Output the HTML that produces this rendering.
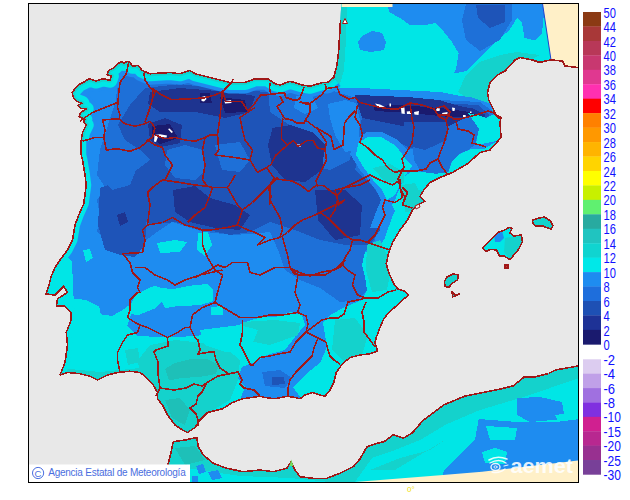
<!DOCTYPE html><html><head><meta charset="utf-8"><style>html,body{margin:0;padding:0;background:#fff;width:630px;height:500px;overflow:hidden}svg{display:block}text{font-family:"Liberation Sans",sans-serif}</style></head><body>
<svg width="630" height="500" viewBox="0 0 630 500">
<rect x="28.5" y="3.5" width="549.5" height="478.5" fill="#e8e8e8"/>
<defs><clipPath id="frame"><rect x="29" y="4" width="549" height="478"/></clipPath>
<clipPath id="land">
<polygon points="60,375 65,362.5 67.5,345 66.25,332.5 71.25,320 71.25,312.5 65,306.25 56.25,306.25 57.5,298.75 67.5,292.5 63.75,286.25 55,295 46,294 49,285 51,277 55,267.5 60,260 67.5,250 72.5,240 75,225 78.75,215 83.75,203.75 86.25,185 85,175 82.5,160 81.25,155 81.25,140 82.5,132.5 86.2,125 83.4,122.2 84.8,119.4 79.2,116.6 80.6,112.4 86.2,109 80.6,108.2 77.8,105.4 82,103.3 76.4,101.2 73.6,98.4 72.2,92.8 75,88.6 79.2,84.4 84.8,81.6 89,78.8 96,81 103,78.8 110,80.2 111.4,76 107.2,74.6 108.6,70.4 114.2,67.6 118.4,63.4 121.2,61.3 124,63.4 126.8,61.3 129.6,62 132.4,66.2 138,65.5 142.2,70.4 150,73.75 170,72.5 180,73.75 190,70.5 195,73.75 210,77.5 230,82.5 245,82.5 255,78.75 267.5,78.75 275,83.75 280,85 290,81.25 302.5,85 310,86.25 322.5,82.5 327.5,82.5 333.75,77.5 337,65 338.75,50 340.5,20 341.25,3.5 578,3.5 578,67.5 565,66 562.5,61 551,60 545,61 540,62.5 532.5,60 520,57.5 515,60 505,71 497.5,75 490,82.5 487.5,92.5 488.75,100 492.5,107.5 496,115 501,117.5 500,122.5 501,137.5 490,150 480,152.5 467.5,163.75 452.5,172.5 440,177.5 430,182.5 423.75,190 420,196.25 425,201.25 417.5,205 412.5,210 407.5,220 400,230 392.5,242.5 388.75,252.5 386.25,263.75 388.75,272.5 393.75,283.75 397.5,288.75 405,291.25 408.75,295 402.5,300 397.5,305 390,311.25 383.75,318.75 380,327.5 376.25,337.5 375,342.5 377.5,351.25 370,353.75 360,355 350,357.5 342.5,363.75 336.25,372.5 333.75,382.5 330,390 325,396.25 320,395 312.5,392.5 305,395 300,398.75 295,397.5 287.5,396.25 275,398.75 265,397.5 260,396.25 242.5,398.75 232.5,402.5 222.5,408.75 207.5,412.5 200,420 195,427.5 187.5,432.5 182.5,430 175,425 167.5,415 162.5,405 157.5,398.75 157.5,392.5 152.5,383.75 145,376.25 140,372.5 130,371.25 117.5,372.5 107.5,375 97.5,380 90,376.25 80,373.75 67.5,372.5"/>
<polygon points="163.3,482 166.7,470 170,456.7 173.3,441.7 185,440 193.3,438.3 196.7,437.5 198.3,446.7 203.3,455 213.3,463.3 226.7,468.3 243.3,471.7 260,470 273.3,471.7 286.7,468.3 291,461.7 295,470 300,476.7 313.3,478.3 326.7,478.3 340,473.3 353.3,466.7 360,459 367,446.8 377.5,443.3 384.4,441.6 393.2,434.6 403.6,438.1 412.4,432.8 422.9,420.6 443.8,404.9 464.7,396.2 482.2,392.7 499.7,389.2 513.6,385.7 524.1,377 534.6,377 548.5,373.5 555.5,370 578,366 578,482"/>
<polygon points="482.4,248.3 487.1,243.6 492.9,237.9 498.6,232.1 504.3,230.2 509,227.4 511.9,228.3 510,233.1 513.8,236 521.4,235 522.4,241.7 518.6,249.3 513.8,255 510,259.8 504.3,256 499.5,256 496.7,250.2 491,249.3 486.2,251.2"/>
<polygon points="532.4,220 539,218.1 544.8,217.1 550.5,221 552.9,225.7 551.4,229 546.7,227.6 541.9,225.7 535.2,225.7 532.9,222.9"/>
<polygon points="444.3,281.7 447.1,276.9 452.9,274 458.6,275 457.6,279.8 451.9,283.6 449,287.4 445.2,286.4"/>
<polygon points="451.9,291.2 454.8,295 459.5,294 452.9,296.9"/>
<polygon points="505,265 508,265 508,268 505,268"/>
</clipPath></defs>
<g clip-path="url(#frame)">
<g clip-path="url(#land)">
<rect x="0" y="0" width="630" height="500" fill="#1e8cf0"/>
<g shape-rendering="crispEdges">
<polygon points="330,0 580,0 580,70 505,72 496,115 480,100 440,92 400,90 360,88 330,88" fill="#00e6e6"/>
<polygon points="336,0 347,0 346,40 344,70 340,84 334,84" fill="#14d2cc"/>
<polygon points="386,3.5 545,3.5 542,33 535,40.6 524.6,38 522,23 517,18 514,23 509,30.5 496.7,40.6 486.5,50.8 476.3,61 466,71 453.5,73.7 456,68.6 458.6,53.3 451,40.6 440.8,28 435.7,23 423,25.4 410,25.4 400,17.8 390,12.7" fill="#1e8cf0"/>
<polygon points="466,4 512,4 512,20 500,40 480,51 466,40 462,20" fill="#1e70d8"/>
<polygon points="476,5 505,5 505,22 490,28 478,18" fill="#1e54b8"/>
<polygon points="362,36 372,31 382,33 386,42 384,50 370,52 360,50 358,42" fill="#1e8cf0"/>
<polygon points="466,75 480,62 500,55 517,52 540,55 505,72 496,115 485,108 470,100 458,92" fill="#14d2cc"/>
<polygon points="330,89 400,90 440,94 470,97 492,104 492,112 330,112" fill="#1e8cf0"/>
<polygon points="118,76 140,76 180,80 230,88 270,88 300,92 335,96 360,98 420,99 480,102 494,112 490,122 470,135 440,148 400,150 375,150 362,165 375,178 382,190 380,215 375,240 365,252 362,265 365,277 367,290 358,300 340,302 320,288 300,280 285,270 278,250 270,232 250,234 232,235 205,232 190,228 172,222 157,232 140,245 122,255 115,250 97,232 100,215 97,200 105,187 97,175 100,150 108,125 116,100" fill="#1e70d8"/>
<polygon points="145,88 180,84 230,90 270,92 300,96 340,100 362,100 420,102 478,105 490,115 470,132 440,145 410,148 390,138 370,140 360,150 355,170 372,185 382,200 380,230 370,245 345,245 320,240 300,232 270,222 250,232 230,235 200,228 175,222 150,225 140,215 130,205 120,190 130,175 150,160 140,150 125,140 118,125 130,105" fill="#1e54b8"/>
<polygon points="100,188 122,180 140,190 147,215 145,245 135,257 120,255 105,250 98,225" fill="#1e54b8"/>
<polygon points="117,215 125,212 128,222 120,226" fill="#1e3490"/>
<polygon points="167,150 185,145 203,150 205,170 195,180 175,178 165,165" fill="#1e70d8"/>
<polygon points="100,150 118,145 140,160 130,185 112,190 100,175" fill="#1e70d8"/>
<polygon points="215,145 240,142 250,160 240,172 222,170" fill="#1e70d8"/>
<polygon points="305,140 330,130 355,135 350,160 330,170 310,165" fill="#1e70d8"/>
<polygon points="150,92 180,88 230,92 255,96 250,112 225,118 195,112 160,112 148,104" fill="#1e3490"/>
<polygon points="148,124 165,118 182,125 180,143 160,147 150,140" fill="#1e3490"/>
<polygon points="173,190 195,186 210,198 235,205 250,215 240,230 215,228 190,222 175,212" fill="#1e3490"/>
<polygon points="272,128 292,125 300,140 298,162 282,165 272,150" fill="#1e3490"/>
<polygon points="315,190 345,190 362,205 360,235 335,240 318,220" fill="#1e3490"/>
<polygon points="200,93 210,93 212,103 200,103" fill="#1a1a6e"/>
<polygon points="220,97 245,100 247,112 225,113" fill="#1a1a6e"/>
<polygon points="152,126 170,124 178,138 160,144 152,138" fill="#1a1a6e"/>
<polygon points="373,106 400,105 440,108 470,112 478,116 450,117 410,113 375,111" fill="#1a1a6e"/>
<polygon points="268,86 300,88 330,90 356,98 362,110 360,150 340,152 320,145 300,132 285,122 270,112" fill="#1e70d8"/>
<polygon points="328,104 345,100 356,103 360,120 358,150 345,152 335,135 330,118" fill="#1e8cf0"/>
<polygon points="296,96 312,96 318,108 305,114 294,108" fill="#1e8cf0"/>
<polygon points="272,130 290,125 312,132 325,145 322,170 305,182 285,180 272,165 268,145" fill="#1e3490"/>
<polygon points="355,95 375.8,95.7 410,97.2 438.8,100 458.8,105.8 473,108.6 484.5,114.3 484.5,120 458.8,128.7 444.5,134.4 415.9,128.7 387.2,122.9 362,118" fill="#1e3490"/>
<polygon points="373,106 400,105 440,108 470,112 478,116 450,117 410,113 375,111" fill="#1a1a6e"/>
<polygon points="350,154 355,140 367,132 382,132 398,140 407,150 440,152 455,140 475,140 510,138 510,170 420,225 370,228 376,212 381,200 376,190 368,180 360,170" fill="#1e8cf0"/>
<polygon points="412,140 447,127 465,118 481,116 486,120 479,129 475,145 468,150 459,154 452,161 448,172 436,174 421,172 414,160" fill="#1e70d8"/>
<polygon points="404,122 447,122 447,140 425,150 406,145" fill="#1e54b8"/>
<polygon points="468,113 481,116 486,118 497,113 510,110 510,140 497,141 475.6,145 479,129" fill="#00e6e6"/>
<polygon points="510,140 497,141 484.6,148.6 472,148.6 459.4,154 452,161 448.6,172 436,173.8 421.6,172 410.8,172 405,176 398,192 395,200 392,205 400,222 430,200 510,170" fill="#00e6e6"/>
<polygon points="355.8,154.4 358.6,143 367.2,137.2 381.5,137.2 395.8,145.8 404.4,157.3 412,166 405,176 395,195 387,200 381.5,188.7 373,180 364.4,168.7" fill="#00e6e6"/>
<polygon points="373,168 390,164 404,172 404,183 385,182" fill="#14d2cc"/>
<polygon points="401,185 415,183 424,200 418,208 404,205" fill="#14d2cc"/>
<polygon points="430,200 410,210 402,210 397,207 393,215 389,226 385,238 378,248 365,252 362,265 365,277 367,290 362,300 345,307 330,315 323,323 327,347 320,363 307,373 293,387 300,397 390,400 420,300" fill="#00e6e6"/>
<polygon points="367,245 380,240 387,255 390,275 387,290 372,292 366,270" fill="#14d2cc"/>
<polygon points="335,320 355,318 368,335 362,355 345,362 332,350" fill="#14d2cc"/>
<polygon points="402,190 422,190 420,210 405,212" fill="#14d2cc"/>
<polygon points="40,250 62,250 72,262 73.6,298.4 86.4,300 99.2,306.4 100.8,314.4 112,316 123.2,309.6 129.6,304.8 132,312 127,326 137,336 160,337 180,337 205,335 220,335 245,322 262,317 275,317 290,312 302,315 305,325 295,337 285,350 267,355 255,362 242,367 238,378 245,387 240,400 230,440 40,440" fill="#00e6e6"/>
<polygon points="130.5,305 135.7,294.4 146.2,289.2 154.9,285.7 160.2,287.5 172.4,289.2 189.8,285.7 207.3,284 212.5,289.2 212.5,301.4 200.3,305 172.4,306.7 165.4,308.4 161.9,301.4 154.9,308.4 137.5,315.4 130.5,313.7" fill="#00e6e6"/>
<polygon points="211,307 223,306 223,315 211,315" fill="#00e6e6"/>
<polygon points="198,233 208,232 212,245 205,256 197,250" fill="#00e6e6"/>
<polygon points="83,250 90,249 93,258 86,262" fill="#00e6e6"/>
<polygon points="157,243 175,240 187,242 180,252 160,253" fill="#00e6e6"/>
<polygon points="213,308 223,306 222,315 214,314" fill="#00e6e6"/>
<polygon points="262,372 280,370 292,378 285,388 265,386" fill="#1e70d8"/>
<polygon points="272,377 284,377 285,384 272,385" fill="#1e54b8"/>
<polygon points="150,345 175,340 222,345 240,360 238,380 230,400 210,412 195,430 180,432 160,410 150,392 140,378 138,360" fill="#14d2cc"/>
<polygon points="125,350 138,348 140,362 128,365" fill="#14d2cc"/>
<polygon points="165,369 175,363 190.6,359 207,359 218.6,365 216,374 200.8,376.8 181.7,378 169,380.6" fill="#1ec0b8"/>
<polygon points="165,400 180,398 190,410 185,425 172,418" fill="#1ec0b8"/>
<polygon points="60,368 100,372 140,368 150,380 100,385 60,380" fill="#14d2cc"/>
<polygon points="243,322 275,320 300,323 298,335 270,345 243,340" fill="#14d2cc"/>
<polygon points="200,330 240,325 258,330 250,350 225,352 205,345" fill="#00e6e6"/>
<polygon points="160,430 580,355 580,482 160,482" fill="#14d2cc"/>
<polygon points="200,470 240,476 290,478 330,482 160,482 165,465" fill="#00e6e6"/>
<polygon points="175,448 195,446 205,460 185,465" fill="#1ec0b8"/>
<polygon points="360,475 372,458 395,450 420,440 447,424 480,410 520,398 550,388 580,378 580,482 355,482" fill="#00e6e6"/>
<polygon points="370,470 400,458 430,450 445,440 420,455 395,470" fill="#14d2cc"/>
<polygon points="517,398 540,397 562,402 565,419 530,422 517,415" fill="#1e8cf0"/>
<polygon points="478.7,419 517,422 555.5,422 580,419 580,482 440,482 443.8,471 457.8,457 475,440" fill="#1e8cf0"/>
<polygon points="486,426 517,428 515,440 490,440" fill="#00e6e6"/>
<polygon points="555,415 576,412 576,420 558,421" fill="#00e6e6"/>
<polygon points="482,452 495,448 507,452 505,464 485,463" fill="#00e6e6"/>
<polygon points="196,466 203,464 206,472 199,474" fill="#1e8cf0"/>
<polygon points="208,472 218,470 222,478 212,480" fill="#1e8cf0"/>
<polygon points="192,476 198,476 198,482 192,482" fill="#1e8cf0"/>
</g>
<polyline points="81.25,140 82.5,132.5 86.2,125 83.4,122.2 84.8,119.4 79.2,116.6 80.6,112.4 86.2,109 80.6,108.2 77.8,105.4 82,103.3 76.4,101.2 73.6,98.4 72.2,92.8 75,88.6 79.2,84.4 84.8,81.6 89,78.8 96,81 103,78.8 110,80.2 111.4,76 107.2,74.6 108.6,70.4 114.2,67.6 118.4,63.4 121.2,61.3 124,63.4 126.8,61.3 129.6,62 132.4,66.2 138,65.5 142.2,70.4 150,73.75 170,72.5 180,73.75 190,70.5 195,73.75 210,77.5 230,82.5 245,82.5 255,78.75 267.5,78.75 275,83.75 280,85 290,81.25 302.5,85 310,86.25 322.5,82.5 327.5,82.5 333.75,77.5" fill="none" stroke="#1e8cf0" stroke-width="22" stroke-linejoin="round"/>
<polyline points="81.25,140 82.5,132.5 86.2,125 83.4,122.2 84.8,119.4 79.2,116.6 80.6,112.4 86.2,109 80.6,108.2 77.8,105.4 82,103.3 76.4,101.2 73.6,98.4 72.2,92.8 75,88.6 79.2,84.4 84.8,81.6 89,78.8 96,81 103,78.8 110,80.2 111.4,76 107.2,74.6 108.6,70.4 114.2,67.6 118.4,63.4 121.2,61.3 124,63.4 126.8,61.3 129.6,62 132.4,66.2 138,65.5 142.2,70.4 150,73.75 170,72.5 180,73.75 190,70.5 195,73.75 210,77.5 230,82.5 245,82.5 255,78.75 267.5,78.75 275,83.75 280,85 290,81.25 302.5,85 310,86.25 322.5,82.5 327.5,82.5 333.75,77.5" fill="none" stroke="#00e6e6" stroke-width="15" stroke-linejoin="round"/>
<polyline points="81.25,140 82.5,132.5 86.2,125 83.4,122.2 84.8,119.4 79.2,116.6 80.6,112.4 86.2,109 80.6,108.2 77.8,105.4 82,103.3 76.4,101.2 73.6,98.4 72.2,92.8 75,88.6 79.2,84.4 84.8,81.6 89,78.8 96,81 103,78.8 110,80.2 111.4,76 107.2,74.6 108.6,70.4 114.2,67.6 118.4,63.4 121.2,61.3 124,63.4 126.8,61.3 129.6,62 132.4,66.2 138,65.5 142.2,70.4 150,73.75 170,72.5 180,73.75 190,70.5 195,73.75 210,77.5 230,82.5 245,82.5 255,78.75 267.5,78.75 275,83.75 280,85 290,81.25 302.5,85 310,86.25 322.5,82.5 327.5,82.5 333.75,77.5" fill="none" stroke="#14d2cc" stroke-width="5" stroke-linejoin="round"/>
<polyline points="60,375 65,362.5 67.5,345 66.25,332.5 71.25,320 71.25,312.5 65,306.25 56.25,306.25 57.5,298.75 67.5,292.5 63.75,286.25 55,295 46,294 49,285 51,277 55,267.5 60,260 67.5,250 72.5,240 75,225 78.75,215 83.75,203.75 86.25,185 85,175 82.5,160 81.25,155 81.25,140" fill="none" stroke="#00e6e6" stroke-width="10" stroke-linejoin="round"/>
<polygon points="482.4,248.3 487.1,243.6 492.9,237.9 498.6,232.1 504.3,230.2 509,227.4 511.9,228.3 510,233.1 513.8,236 521.4,235 522.4,241.7 518.6,249.3 513.8,255 510,259.8 504.3,256 499.5,256 496.7,250.2 491,249.3 486.2,251.2" fill="#00e6e6"/>
<polygon points="505,238 521,235 523,243 517,252 510,259 504,252" fill="#14d2cc"/>
<polygon points="494,233 502,231 504,238 500,242 495,242" fill="#1e8cf0"/>
<polygon points="532.4,220 539,218.1 544.8,217.1 550.5,221 552.9,225.7 551.4,229 546.7,227.6 541.9,225.7 535.2,225.7 532.9,222.9" fill="#14d2cc"/>
<polygon points="444.3,281.7 447.1,276.9 452.9,274 458.6,275 457.6,279.8 451.9,283.6 449,287.4 445.2,286.4" fill="#14d2cc"/>
<polygon points="451.9,291.2 454.8,295 459.5,294 452.9,296.9" fill="#14d2cc"/>
<polygon points="505,265 508,265 508,268 505,268" fill="#c04040"/>
<polygon points="201.5,97 205,96 206.5,99 204,101.5 201.5,101" fill="#fff"/>
<polygon points="224.5,101 231,100 231.5,103 225,103.5" fill="#fff"/>
<polygon points="168,129 169.5,128.5 173,132 171.5,133" fill="#fff"/>
<polygon points="154.5,135 160,134.3 167,135.5 166.5,137.4 158,137 156,142 154,141.5" fill="#fff"/>
<polygon points="375,103.6 380,104.5 385,107 384,108.5 378,107" fill="#fff"/>
<polygon points="389.5,103.6 391,103.6 391,106.4 389.5,106.4" fill="#fff"/>
<polygon points="401,108 404.5,107.4 404.8,114 401.5,113.5" fill="#fff"/>
<polygon points="406.7,111.5 411.4,111 411,114 407,114" fill="#fff"/>
<polygon points="414,112 419,111 418.5,115 414.5,114.5" fill="#fff"/>
<polygon points="436,108 440,108.5 439.5,111 436.5,111" fill="#fff"/>
<polygon points="442,113 447.6,112 447,116 443,116" fill="#fff"/>
<polygon points="452,107.4 455,108 454.5,111 452.5,111" fill="#fff"/>
<polygon points="463,115 465.7,115 465.7,117 463,117" fill="#fff"/>
<polygon points="470,111.5 471.5,111.5 471.5,113 470,113" fill="#fff"/>
<polygon points="297,144.5 301,144.5 301,146.5 297,146.5" fill="#fff"/>
</g>
<polygon points="542.5,3.5 578,3.5 578,67.5 565,66 562.5,61 551,60" fill="#fff0c8"/>
<polygon points="355,482 440,475.3 482,471.7 578,460.5 578,482" fill="#fff0c8"/>
<rect x="341.5" y="3.5" width="51" height="3.5" fill="#fff0c8"/>
<line x1="542.5" y1="3.5" x2="551" y2="60" stroke="#2040d0" stroke-width="1"/>
<g fill="none" stroke="#a01818" stroke-width="1.6" stroke-linejoin="round" shape-rendering="crispEdges">
<polyline points="128.75,62.5 126.25,73.75 120,82.5 118.75,92.5 117.5,107.5 120,115 118.75,120"/>
<polyline points="117.5,102.5 105,107.5 92.5,112.5 85,117.5 80,121.25"/>
<polyline points="102.5,120 118.75,118.75 125,123.75 135,126.25 145,123.75 150,121.25 155,127.5"/>
<polyline points="102.5,120 105,130 103.75,137.5 106.25,150"/>
<polyline points="82.5,141.25 95,137.5 103.75,137.5"/>
<polyline points="106.25,150 117.5,148.75 130,151.25 140,147.5 146.25,142.5 147.5,140 155,145 162.5,147.5 165,155 172.5,165 167.5,175 165,180"/>
<polyline points="143.75,72.5 145,80 150,87.5 155,92.5 152.5,98.75 150,107.5 147.5,115 145,122.5"/>
<polyline points="152.5,98.75 152.7,88.6 160,94 171.7,99.7 185,99 203.5,98 215,95 222.5,91.7 232,82 233,79"/>
<polyline points="155,127.5 152.5,137.5 147.5,140"/>
<polyline points="155,135 165,138.75 175,137.5 185,140 195,141.25 205,137.5 210,135 217.5,135"/>
<polyline points="222.5,91.7 225.7,101.3 241.6,101.3 248,110.8 254,104.4 260.6,95 271,94.5 269.5,88.5 270,83"/>
<polyline points="271,94.5 280,93 284.5,93 286,97.5 295,100.5 299.5,99 302.5,91.5 304,87"/>
<polyline points="222.5,90 220,117.5 217.5,135 218.75,150 215,155"/>
<polyline points="205,137.5 202.5,150 205,165 202.5,180"/>
<polyline points="255,107.5 240,117.5 242.5,130 245,140 252.5,150 250,160"/>
<polyline points="215,155 235,157.5 250,160"/>
<polyline points="250,160 257.5,172.5 266.5,167.5 271,164.5 275.5,155.5 287.5,145"/>
<polyline points="325,84 326.5,88.5 337,87 340,94.5 349,99 355,97.5 360,102.5 370,105 380,107.5 390,108.75 390,109"/>
<polyline points="357.5,105 355,117.5 360,125 362.5,135 360,142.5 367.5,147.5 375,155 382.5,160 387.5,167.5 395,172.5 402.5,170"/>
<polyline points="370,175 380,180 392.5,185 400,180 400,187.5 405,197.5 402.5,205"/>
<polyline points="165,180 162.5,180 152.5,187.5 147.5,192.5 150,205 147.5,225 142.5,230 145,240 142.5,252.5 122.5,253.75"/>
<polyline points="122.5,253.75 130,262.5 132.5,272.5 140,280 137.5,287.5 140,292.5 137.5,292.5 130,300 130,310 127.5,317.5 135,322.5 140,325 137.5,332.5 127.5,335 122.5,342.5 117.5,352.5 117.5,360 120,372.5"/>
<polyline points="147.5,225 162.5,222.5 172.5,217.5 185,225 195,227.5 202.5,230"/>
<polyline points="162.5,180 180,182.5 195,185 207.5,186.25"/>
<polyline points="202.5,180 207.5,186.25 212.5,187.5 210,195 205,207.5 195,215 187.5,222.5"/>
<polyline points="135,267.5 145,267.5 155,275 167.5,280 175,285 185,280 200,275 222.5,270"/>
<polyline points="212.5,187.5 227.5,187.5 232.5,180 235,175"/>
<polyline points="227.5,187.5 237.5,205 242.5,210 252.5,202.5 262.5,192.5 270,185 277.5,177.5"/>
<polyline points="202.5,230 210,230 227.5,227.5 237.5,225 242.5,210"/>
<polyline points="237.5,225 245,228.75 255,232.5 265,237.5 257.5,245 270,240 280,237.5 287.5,232.5 295,225 302.5,220 315,215 325,210 335,205 345,200"/>
<polyline points="270,185 270,200 280,217.5 282.5,230 280,237.5"/>
<polyline points="282.5,237.5 287.5,255 290,267.5 295,275"/>
<polyline points="195,277.5 210,270 217.5,265 225,267.5 232.5,262.5 247.5,262.5 250,272.5 260,275 275,267.5 290,267.5 297.5,275"/>
<polyline points="202.5,230 202.5,245 207.5,257.5 215,270 222.5,275 217.5,292.5 215,302.5"/>
<polyline points="297.5,275 310,275 325,275 337.5,267.5 345,260"/>
<polyline points="402.5,187.5 407.5,192.5 402.5,205 412.5,208"/>
<polyline points="400,187.5 402.5,197.5 395,202.5 385,200 382.5,207.5 385,215 380,225 375,235 367.5,242.5 360,240 352.5,240 345,235 335,225 327.5,217.5 320,212.5"/>
<polyline points="367.5,242.5 382.5,247.5 390,250"/>
<polyline points="335,190 345,187.5 360,185 370,180"/>
<polyline points="335,190 337.5,200 335,210 330,217.5"/>
<polyline points="352.5,240 350,250 345,257.5 342.5,265 347.5,270 355,275 352.5,285 357.5,295 366,298"/>
<polyline points="342,266 334,270 322,272 310,276 298,272 290,268"/>
<polyline points="366,298 378,298 388,292 396,290"/>
<polyline points="366,302 362,312 364,322 364,332 370,340 375,347"/>
<polyline points="140,325 147.5,327.5 157.5,332.5 167.5,337.5 177.5,332.5 185,327.5 190,327.5"/>
<polyline points="215,302.5 202.5,307.5 192.5,315 190,327.5"/>
<polyline points="167.5,337.5 168,346 156,350 154,352 158,362 158,374 160,388 158,392 156,396"/>
<polyline points="215,302.5 227.5,310 240,317.5 257.5,317.5 270,315 282.5,315 297.5,312.5"/>
<polyline points="242.5,320 242.5,332.5 240,345 242,348 246,356 250,364 252,366"/>
<polyline points="190,327.5 195,337.5 198,340 200,350 198,354 210,352 214,352 216,360 220,368 226,372 228,374"/>
<polyline points="228,374 238,372 242,380 240,384 244,388 254,390 260,396"/>
<polyline points="160,388 174,390 186,388 194,384 202,386 208,382 218,376 228,374"/>
<polyline points="206,384 202,392 198,396 196,404 190,408 196,414 198,420 198,426"/>
<polyline points="297.5,270 297.5,277.5 295,292.5 300,305 297.5,312.5"/>
<polyline points="390,109 398,109 410,103 422,105 434,109 438,115 448,115 454,119 460,119 468,117 476,115 488,111 494,113 498,117 500,119"/>
<polyline points="410,103 412,119 414,127 412,143 406,153 402,159 404,167 402,171"/>
<polyline points="446,121 448,129 444,143 440,153 438,159 442,167 448,175"/>
<polyline points="438,159 430,163 426,169 416,171 406,171 402,171 398,179 400,187"/>
<polyline points="456,121 458,129 468,131 474,135 472,143 480,145 486,147"/>
<polyline points="436,108 444,106 450,112 446,120 438,116"/>
<polyline points="297.5,312.5 306,316 308,324 306,332"/>
<polyline points="366,298 358,300 348,302 346,308 344,314 338,318 330,318 322,320 314,326 306,332"/>
<polyline points="252,366 260,357.5 270,356 278,354 290,352 296,342 302,336 306,332"/>
<polyline points="306,332 318,338 326,342"/>
<polyline points="318,338 314,348 312,356 304,364 296,372 290,380 288,388 288,396"/>
<polyline points="326,342 328,350 330,356 334,360 340,364"/>
<polyline points="280,96 283,102 277,106.5 280,111 284.5,118.5 292,120 296.5,123 304,123 305.5,120 310,112.5 310,105 299.5,102"/>
<polyline points="299.5,102 310,103.5 322,94.5 326.5,88.5"/>
<polyline points="305.5,120 317.5,129 326.5,142"/>
<polyline points="316,127.5 331,136.5 334,149.5 343,145 344.5,123 349,117 355,111"/>
<polyline points="283,118.5 281.5,127.5 281.5,139 287.5,145 293.5,140.5 298,146.5 307,140.5 313,140.5 317.5,148 325,149.5"/>
<polyline points="326.5,142 325,149.5 326.5,160 322,169 319,175 316,181 317.5,187"/>
<polyline points="266.5,167.5 274,178 280,179.5 292,181 301,185.5 308.5,191.5 316,185.5"/>
<polyline points="274,178 272.5,181 268,187 271,196 269.5,205"/>
<polyline points="316,185.5 323.5,185.5 331,191.5 337,196 343,188.5 352,184 365,177.5 370,175"/>
<polyline points="337,196 338.5,205 345,200"/>
</g>
<g fill="none" stroke="#a01818" stroke-width="1.6" stroke-linejoin="round" shape-rendering="crispEdges">
<polyline points="60,375 65,362.5 67.5,345 66.25,332.5 71.25,320 71.25,312.5 65,306.25 56.25,306.25 57.5,298.75 67.5,292.5 63.75,286.25 55,295 46,294 49,285 51,277 55,267.5 60,260 67.5,250 72.5,240 75,225 78.75,215 83.75,203.75 86.25,185 85,175 82.5,160 81.25,155 81.25,140 82.5,132.5 86.2,125 83.4,122.2 84.8,119.4 79.2,116.6 80.6,112.4 86.2,109 80.6,108.2 77.8,105.4 82,103.3 76.4,101.2 73.6,98.4 72.2,92.8 75,88.6 79.2,84.4 84.8,81.6 89,78.8 96,81 103,78.8 110,80.2 111.4,76 107.2,74.6 108.6,70.4 114.2,67.6 118.4,63.4 121.2,61.3 124,63.4 126.8,61.3 129.6,62 132.4,66.2 138,65.5 142.2,70.4 150,73.75 170,72.5 180,73.75 190,70.5 195,73.75 210,77.5 230,82.5 245,82.5 255,78.75 267.5,78.75 275,83.75 280,85 290,81.25 302.5,85 310,86.25 322.5,82.5 327.5,82.5 333.75,77.5 337,65 338.75,50 340.5,20"/>
<polyline points="578,67.5 565,66 562.5,61 551,60 545,61 540,62.5 532.5,60 520,57.5 515,60 505,71 497.5,75 490,82.5 487.5,92.5 488.75,100 492.5,107.5 496,115 501,117.5 500,122.5 501,137.5 490,150 480,152.5 467.5,163.75 452.5,172.5 440,177.5 430,182.5 423.75,190 420,196.25 425,201.25 417.5,205 412.5,210 407.5,220 400,230 392.5,242.5 388.75,252.5 386.25,263.75 388.75,272.5 393.75,283.75 397.5,288.75 405,291.25 408.75,295 402.5,300 397.5,305 390,311.25 383.75,318.75 380,327.5 376.25,337.5 375,342.5 377.5,351.25 370,353.75 360,355 350,357.5 342.5,363.75 336.25,372.5 333.75,382.5 330,390 325,396.25 320,395 312.5,392.5 305,395 300,398.75 295,397.5 287.5,396.25 275,398.75 265,397.5 260,396.25 242.5,398.75 232.5,402.5 222.5,408.75 207.5,412.5 200,420 195,427.5 187.5,432.5 182.5,430 175,425 167.5,415 162.5,405 157.5,398.75 157.5,392.5 152.5,383.75 145,376.25 140,372.5 130,371.25 117.5,372.5 107.5,375 97.5,380 90,376.25 80,373.75 67.5,372.5 60,375"/>
<polyline points="163.3,482 166.7,470 170,456.7 173.3,441.7 185,440 193.3,438.3 196.7,437.5 198.3,446.7 203.3,455 213.3,463.3 226.7,468.3 243.3,471.7 260,470 273.3,471.7 286.7,468.3 291,461.7 295,470 300,476.7 313.3,478.3 326.7,478.3 340,473.3 353.3,466.7 360,459 367,446.8 377.5,443.3 384.4,441.6 393.2,434.6 403.6,438.1 412.4,432.8 422.9,420.6 443.8,404.9 464.7,396.2 482.2,392.7 499.7,389.2 513.6,385.7 524.1,377 534.6,377 548.5,373.5 555.5,370 578,366"/>
<polygon points="482.4,248.3 487.1,243.6 492.9,237.9 498.6,232.1 504.3,230.2 509,227.4 511.9,228.3 510,233.1 513.8,236 521.4,235 522.4,241.7 518.6,249.3 513.8,255 510,259.8 504.3,256 499.5,256 496.7,250.2 491,249.3 486.2,251.2"/>
<polygon points="532.4,220 539,218.1 544.8,217.1 550.5,221 552.9,225.7 551.4,229 546.7,227.6 541.9,225.7 535.2,225.7 532.9,222.9"/>
<polygon points="444.3,281.7 447.1,276.9 452.9,274 458.6,275 457.6,279.8 451.9,283.6 449,287.4 445.2,286.4"/>
<polygon points="451.9,291.2 454.8,295 459.5,294 452.9,296.9"/>
<polygon points="505,265 508,265 508,268 505,268"/>
</g>
</g>
<polygon points="289.5,466 291.2,459.5 293.5,466" fill="#70e060"/>
<polygon points="342.5,23.5 345,18.5 347.5,23.5" fill="#fff" stroke="#a01818" stroke-width="1"/>
<polygon points="415,206 419,204 420,207 416,209" fill="#e8e8e8" stroke="#a01818" stroke-width="1"/>
<rect x="28.5" y="3.5" width="550" height="479" fill="none" stroke="#000" stroke-width="1" shape-rendering="crispEdges"/>
<rect x="29" y="464.5" width="161" height="17.5" fill="#fff"/>
<circle cx="38.1" cy="473" r="5.6" fill="none" stroke="#4a6ee0" stroke-width="1"/>
<text x="34.6" y="476.6" font-size="9.5" fill="#4a6ee0">C</text>
<text x="48.2" y="476.3" font-size="10" fill="#4a6ee0" textLength="137.5" lengthAdjust="spacing">Agencia Estatal de Meteorología</text>
<g opacity="0.88" fill="none" stroke="#fff" stroke-linecap="round">
<path d="M489,460 Q497,455 507,459" stroke-width="1.6"/>
<path d="M490,463 Q499,458 506,463" stroke-width="1.4"/>
<ellipse cx="495.5" cy="467" rx="4.5" ry="3.5" stroke-width="1.4"/>
<ellipse cx="495.5" cy="467" rx="1.6" ry="1.2" stroke-width="1"/>
<path d="M492,472 Q499,474 505,469" stroke-width="1.4"/>
<path d="M504,466 L508,465" stroke-width="1.2"/>
</g>
<text x="510.5" y="472.5" font-size="20.5" font-weight="bold" fill="#fff" fill-opacity="0.88" textLength="62.5" lengthAdjust="spacingAndGlyphs">aemet</text>
<rect x="583" y="12.00" width="18" height="14.75" fill="#8b3a14"/>
<text x="603.5" y="17.60" font-size="15" fill="#1010ff" textLength="12.4" lengthAdjust="spacingAndGlyphs">50</text>
<rect x="583" y="26.45" width="18" height="14.75" fill="#a83838"/>
<text x="603.5" y="32.05" font-size="15" fill="#1010ff" textLength="12.4" lengthAdjust="spacingAndGlyphs">44</text>
<rect x="583" y="40.90" width="18" height="14.75" fill="#b83858"/>
<text x="603.5" y="46.50" font-size="15" fill="#1010ff" textLength="12.4" lengthAdjust="spacingAndGlyphs">42</text>
<rect x="583" y="55.35" width="18" height="14.75" fill="#c83870"/>
<text x="603.5" y="60.95" font-size="15" fill="#1010ff" textLength="12.4" lengthAdjust="spacingAndGlyphs">40</text>
<rect x="583" y="69.80" width="18" height="14.75" fill="#e03890"/>
<text x="603.5" y="75.40" font-size="15" fill="#1010ff" textLength="12.4" lengthAdjust="spacingAndGlyphs">38</text>
<rect x="583" y="84.25" width="18" height="14.75" fill="#ff30b0"/>
<text x="603.5" y="89.85" font-size="15" fill="#1010ff" textLength="12.4" lengthAdjust="spacingAndGlyphs">36</text>
<rect x="583" y="98.70" width="18" height="14.75" fill="#ff0000"/>
<text x="603.5" y="104.30" font-size="15" fill="#1010ff" textLength="12.4" lengthAdjust="spacingAndGlyphs">34</text>
<rect x="583" y="113.15" width="18" height="14.75" fill="#ff8000"/>
<text x="603.5" y="118.75" font-size="15" fill="#1010ff" textLength="12.4" lengthAdjust="spacingAndGlyphs">32</text>
<rect x="583" y="127.60" width="18" height="14.75" fill="#ff9800"/>
<text x="603.5" y="133.20" font-size="15" fill="#1010ff" textLength="12.4" lengthAdjust="spacingAndGlyphs">30</text>
<rect x="583" y="142.05" width="18" height="14.75" fill="#ffb400"/>
<text x="603.5" y="147.65" font-size="15" fill="#1010ff" textLength="12.4" lengthAdjust="spacingAndGlyphs">28</text>
<rect x="583" y="156.50" width="18" height="14.75" fill="#ffd400"/>
<text x="603.5" y="162.10" font-size="15" fill="#1010ff" textLength="12.4" lengthAdjust="spacingAndGlyphs">26</text>
<rect x="583" y="170.95" width="18" height="14.75" fill="#ffff00"/>
<text x="603.5" y="176.55" font-size="15" fill="#1010ff" textLength="12.4" lengthAdjust="spacingAndGlyphs">24</text>
<rect x="583" y="185.40" width="18" height="14.75" fill="#c8f000"/>
<text x="603.5" y="191.00" font-size="15" fill="#1010ff" textLength="12.4" lengthAdjust="spacingAndGlyphs">22</text>
<rect x="583" y="199.85" width="18" height="14.75" fill="#60f070"/>
<text x="603.5" y="205.45" font-size="15" fill="#1010ff" textLength="12.4" lengthAdjust="spacingAndGlyphs">20</text>
<rect x="583" y="214.30" width="18" height="14.75" fill="#28aaa0"/>
<text x="603.5" y="219.90" font-size="15" fill="#1010ff" textLength="12.4" lengthAdjust="spacingAndGlyphs">18</text>
<rect x="583" y="228.75" width="18" height="14.75" fill="#20c4c0"/>
<text x="603.5" y="234.35" font-size="15" fill="#1010ff" textLength="12.4" lengthAdjust="spacingAndGlyphs">16</text>
<rect x="583" y="243.20" width="18" height="14.75" fill="#10d4d0"/>
<text x="603.5" y="248.80" font-size="15" fill="#1010ff" textLength="12.4" lengthAdjust="spacingAndGlyphs">14</text>
<rect x="583" y="257.65" width="18" height="14.75" fill="#00e8e8"/>
<text x="603.5" y="263.25" font-size="15" fill="#1010ff" textLength="12.4" lengthAdjust="spacingAndGlyphs">12</text>
<rect x="583" y="272.10" width="18" height="14.75" fill="#1e8cf0"/>
<text x="603.5" y="277.70" font-size="15" fill="#1010ff" textLength="12.4" lengthAdjust="spacingAndGlyphs">10</text>
<rect x="583" y="286.55" width="18" height="14.75" fill="#1e6edc"/>
<text x="603.5" y="292.15" font-size="15" fill="#1010ff" textLength="6.2" lengthAdjust="spacingAndGlyphs">8</text>
<rect x="583" y="301.00" width="18" height="14.75" fill="#1e50b4"/>
<text x="603.5" y="306.60" font-size="15" fill="#1010ff" textLength="6.2" lengthAdjust="spacingAndGlyphs">6</text>
<rect x="583" y="315.45" width="18" height="14.75" fill="#1e3296"/>
<text x="603.5" y="321.05" font-size="15" fill="#1010ff" textLength="6.2" lengthAdjust="spacingAndGlyphs">4</text>
<rect x="583" y="329.90" width="18" height="14.75" fill="#1a1a6e"/>
<text x="603.5" y="335.50" font-size="15" fill="#1010ff" textLength="6.2" lengthAdjust="spacingAndGlyphs">2</text>
<text x="603.5" y="349.95" font-size="15" fill="#1010ff" textLength="6.2" lengthAdjust="spacingAndGlyphs">0</text>
<rect x="583" y="359.30" width="18" height="14.69" fill="#dcccf0"/>
<text x="603.5" y="364.90" font-size="15" fill="#1010ff" textLength="11.6" lengthAdjust="spacingAndGlyphs">-2</text>
<rect x="583" y="373.69" width="18" height="14.69" fill="#c0a0e8"/>
<text x="603.5" y="379.29" font-size="15" fill="#1010ff" textLength="11.6" lengthAdjust="spacingAndGlyphs">-4</text>
<rect x="583" y="388.07" width="18" height="14.69" fill="#a070e0"/>
<text x="603.5" y="393.68" font-size="15" fill="#1010ff" textLength="11.6" lengthAdjust="spacingAndGlyphs">-6</text>
<rect x="583" y="402.46" width="18" height="14.69" fill="#8030e0"/>
<text x="603.5" y="408.06" font-size="15" fill="#1010ff" textLength="11.6" lengthAdjust="spacingAndGlyphs">-8</text>
<rect x="583" y="416.85" width="18" height="14.69" fill="#d02090"/>
<text x="603.5" y="422.45" font-size="15" fill="#1010ff" textLength="17.4" lengthAdjust="spacingAndGlyphs">-10</text>
<rect x="583" y="431.24" width="18" height="14.69" fill="#b82890"/>
<text x="603.5" y="436.84" font-size="15" fill="#1010ff" textLength="17.4" lengthAdjust="spacingAndGlyphs">-15</text>
<rect x="583" y="445.62" width="18" height="14.69" fill="#983090"/>
<text x="603.5" y="451.23" font-size="15" fill="#1010ff" textLength="17.4" lengthAdjust="spacingAndGlyphs">-20</text>
<rect x="583" y="460.01" width="18" height="14.69" fill="#784098"/>
<text x="603.5" y="465.61" font-size="15" fill="#1010ff" textLength="17.4" lengthAdjust="spacingAndGlyphs">-25</text>
<text x="603.5" y="480.00" font-size="15" fill="#1010ff" textLength="17.4" lengthAdjust="spacingAndGlyphs">-30</text>
<text x="407" y="491.5" font-size="8" fill="#f0e000">0°</text>
</svg></body></html>
